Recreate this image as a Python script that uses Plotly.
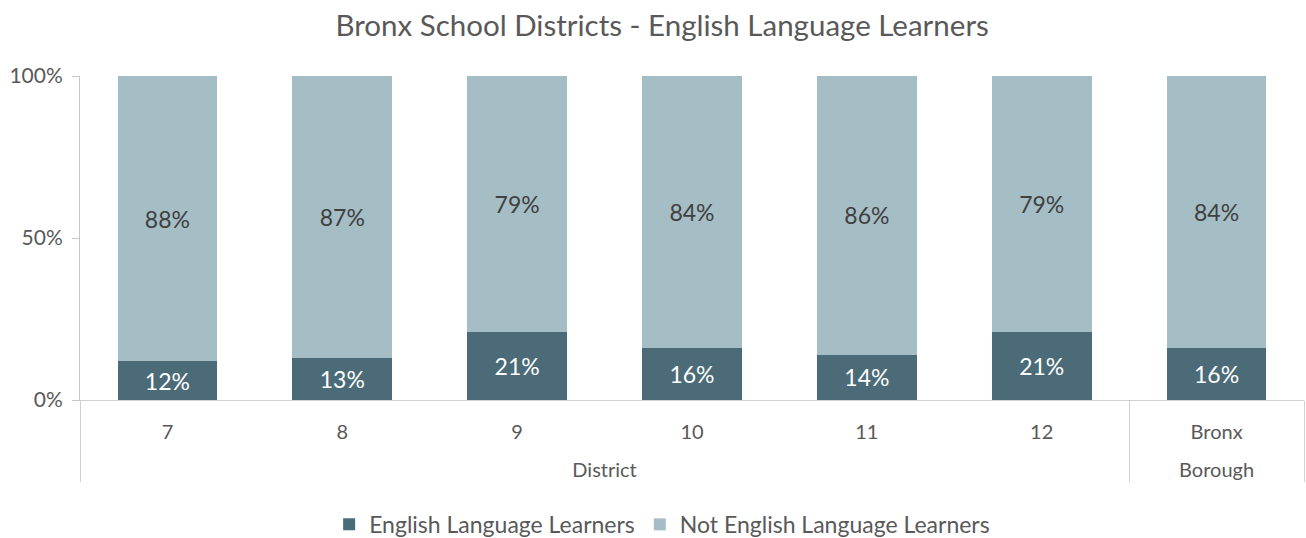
import plotly.graph_objects as go

groups = ["District"] * 6 + ["Borough"]
categories = ["7", "8", "9", "10", "11", "12", "Bronx"]
ell = [12, 13, 21, 16, 14, 21, 16]
not_ell = [88, 87, 79, 84, 86, 79, 84]
y_ticks = [0, 50, 100]
y_tick_labels = ["0%", "50%", "100%"]

dark = "#4b6b78"
light = "#a5bec6"
grey = "#595959"
font_family = "Lato, 'Open Sans', sans-serif"

# a trailing blank line widens the gap between the category row and the group row
x_labels = [groups, [c + "<br> " for c in categories]]

fig = go.Figure()
fig.add_trace(go.Bar(
    x=x_labels, y=ell, name="English Language Learners",
    marker=dict(color=dark, line=dict(width=0)),
    text=[f"{v}%" for v in ell], textposition="inside", insidetextanchor="middle",
    textfont=dict(color="white", size=23, family=font_family),
    hoverinfo="skip",
))
fig.add_trace(go.Bar(
    x=x_labels, y=not_ell, name="Not English Language Learners",
    marker=dict(color=light, line=dict(width=0)),
    text=[f"{v}%" for v in not_ell], textposition="inside", insidetextanchor="middle",
    textfont=dict(color="#404040", size=23, family=font_family),
    hoverinfo="skip",
))

fig.update_layout(
    barmode="stack",
    bargap=0.43,
    width=1306, height=538,
    margin=dict(l=80, r=2, t=76, b=138, autoexpand=False),
    paper_bgcolor="white", plot_bgcolor="white",
    font=dict(family=font_family, color=grey, size=20),
    title=dict(text="Bronx School Districts - English Language Learners",
               x=0.507, xanchor="center", y=0.952, yanchor="middle",
               font=dict(size=29.5, color=grey, family=font_family)),
    legend=dict(orientation="h", xref="container", x=0.507, xanchor="center",
                y=-0.384, yanchor="middle",
                font=dict(size=23, color=grey), itemwidth=30, traceorder="normal"),
    uniformtext=dict(mode="show", minsize=10),
)
fig.update_xaxes(
    type="multicategory",
    showline=True, linecolor="#d0d0d0", linewidth=1,
    showdividers=True, dividercolor="#d0d0d0", dividerwidth=1,
    ticklabelstandoff=14,
    tickfont=dict(size=20, color=grey),
    showgrid=False, automargin=False,
)
fig.update_yaxes(
    range=[0, 100], tickvals=y_ticks, ticktext=y_tick_labels,
    showline=True, linecolor="#c8c8c8", linewidth=1,
    ticks="outside", ticklen=7, tickcolor="#c8c8c8",
    ticklabelstandoff=5,
    showgrid=False, zeroline=False, automargin=False,
    tickfont=dict(size=21, color=grey),
)

fig.write_html("out.html", config={"displayModeBar": False},
               post_script="document.body.style.margin='0';")
